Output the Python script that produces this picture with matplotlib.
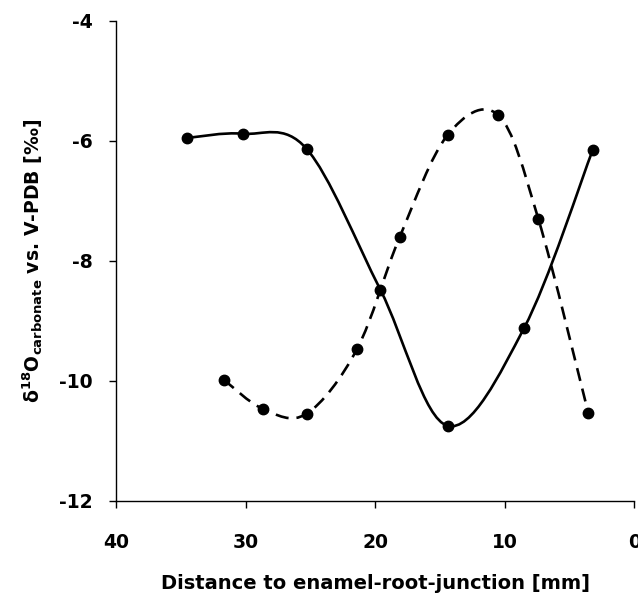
import matplotlib
matplotlib.use('Agg')
import matplotlib.pyplot as plt
import numpy as np
from matplotlib.path import Path
from matplotlib.patches import PathPatch

plt.rcParams['font.family'] = 'DejaVu Sans'
plt.rcParams['mathtext.default'] = 'bf'
plt.rcParams['axes.unicode_minus'] = False

# solid series
solid_x = [34.5, 30.2, 25.3, 19.6, 14.4, 8.5, 3.2]
solid_y = [-5.95, -5.88, -6.13, -8.48, -10.75, -9.12, -6.15]

# dashed series
dashed_x = [31.7, 28.65, 25.3, 21.4, 18.1, 14.4, 10.5, 7.4, 3.55]
dashed_y = [-9.98, -10.47, -10.55, -9.47, -7.6, -5.9, -5.57, -7.3, -10.53]

xticks = [40, 30, 20, 10, 0]
yticks = [-12, -10, -8, -6, -4]


def smooth_path(xs, ys):
    # Excel-like smooth line: cubic Bezier segments through every point
    p = np.column_stack([xs, ys])
    ext = np.vstack([p[0], p, p[-1]])
    verts = [p[0]]
    codes = [Path.MOVETO]
    for i in range(len(p) - 1):
        p0, p1, p2, p3 = ext[i], ext[i + 1], ext[i + 2], ext[i + 3]
        c1 = p1 + (p2 - p0) / 6.0
        c2 = p2 - (p3 - p1) / 6.0
        verts += [c1, c2, p2]
        codes += [Path.CURVE4] * 3
    return Path(verts, codes)


fig, ax = plt.subplots(figsize=(6.38, 5.99), dpi=100)
fig.subplots_adjust(left=0.182, right=0.994, top=0.965, bottom=0.164)

ax.add_patch(PathPatch(smooth_path(solid_x, solid_y), fill=False,
                       lw=1.9, color='black', capstyle='round'))
ax.add_patch(PathPatch(smooth_path(dashed_x, dashed_y), fill=False,
                       lw=1.9, color='black', linestyle=(0, (5, 3))))
ax.plot(solid_x, solid_y, 'o', color='black', ms=7.5)
ax.plot(dashed_x, dashed_y, 'o', color='black', ms=7.5)

ax.set_xlim(40, 0)
ax.set_ylim(-12, -4)
ax.set_xticks(xticks)
ax.set_yticks(yticks)
for lab in ax.get_xticklabels() + ax.get_yticklabels():
    lab.set_fontweight('bold')
    lab.set_fontsize(13.5)
ax.tick_params(direction='out', length=5, width=1, pad=12)
ax.tick_params(axis='x', pad=18)

for s in ['top', 'right']:
    ax.spines[s].set_visible(False)
for s in ['left', 'bottom']:
    ax.spines[s].set_linewidth(1)

ax.set_xlabel('Distance to enamel-root-junction [mm]', fontsize=14,
              fontweight='bold', labelpad=16)
ax.set_ylabel(r'δ$^{18}$O$_{carbonate}$ vs. V-PDB [‰]', fontsize=13.5,
              fontweight='bold', labelpad=10)

fig.savefig('out.png', dpi=100)
